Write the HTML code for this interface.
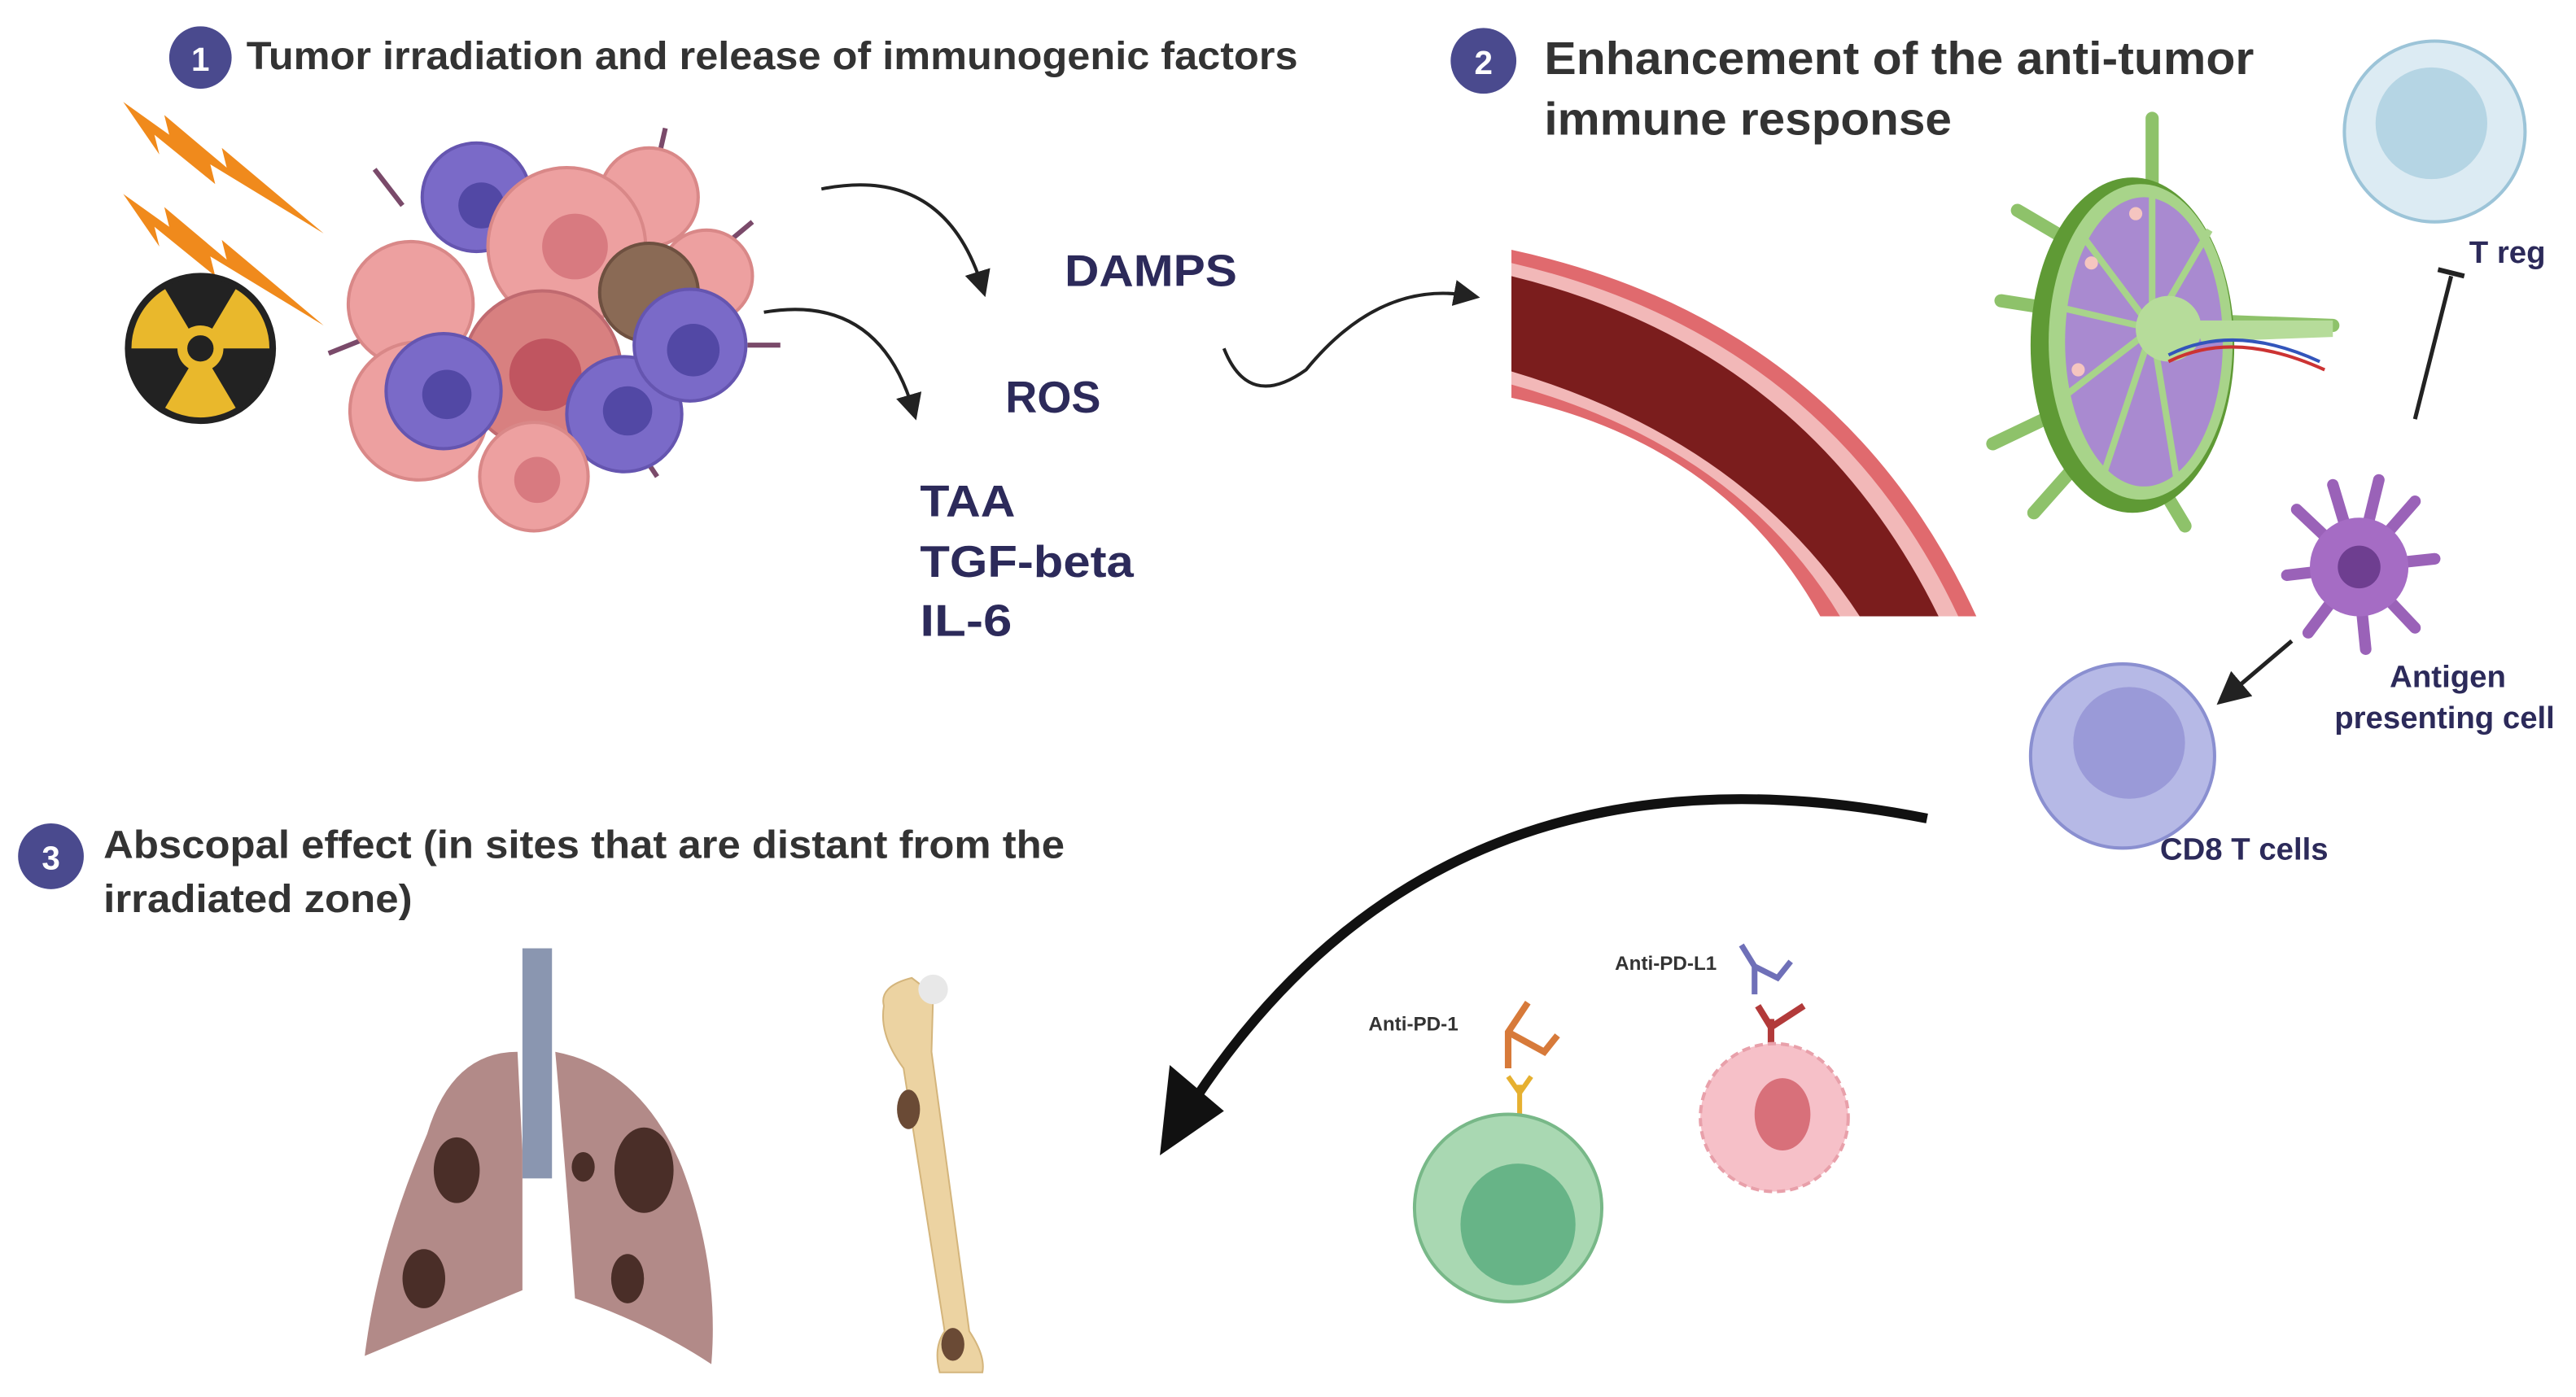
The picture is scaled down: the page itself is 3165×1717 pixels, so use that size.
<!DOCTYPE html>
<html><head><meta charset="utf-8"><style>
html,body{margin:0;padding:0;background:#fff;}
svg{display:block;}
text{font-family:"Liberation Sans",sans-serif;font-weight:bold;}
</style></head><body>
<svg width="3165" height="1717" viewBox="0 0 1568 850" preserveAspectRatio="none" xmlns="http://www.w3.org/2000/svg">
<rect width="1568" height="850" fill="#fff"/>
<defs>
<marker id="ah" markerWidth="8" markerHeight="8" refX="5" refY="4" orient="auto" markerUnits="strokeWidth"><path d="M0,0 L8,4 L0,8 Z" fill="#222"/></marker>
</defs>
<!-- Section 1 -->
<circle cx="122" cy="35" r="19" fill="#4a4a8e"/>
<text x="122" y="43" font-size="20" fill="#fff" text-anchor="middle">1</text>
<text x="150" y="42" font-size="24" fill="#333" textLength="640" lengthAdjust="spacingAndGlyphs">Tumor irradiation and release of immunogenic factors</text>
<!-- lightning -->
<polygon points="75,62 103,82 100,70 138,102 135,90 197,142 128,100 131,112 94,82 97,94" fill="#f08a1c"/>
<polygon points="75,118 103,138 100,126 138,158 135,146 197,198 128,156 131,168 94,138 97,150" fill="#f08a1c"/>
<!-- radiation -->
<circle cx="122" cy="212" r="44" fill="#e9b82c" stroke="#222" stroke-width="4"/>
<path d="M122,212 L100,175 A43,43 0 0,1 144,175 Z" fill="#222"/>
<path d="M122,212 L165,212 A43,43 0 0,1 144,249 Z" fill="#222"/>
<path d="M122,212 L100,249 A43,43 0 0,1 79,212 Z" fill="#222"/>
<circle cx="122" cy="212" r="14" fill="#e9b82c"/>
<circle cx="122" cy="212" r="8" fill="#222"/>
<!-- tumor -->
<g stroke-width="2">
<g stroke="#7a4a6a" stroke-width="3" fill="none">
<path d="M228,103 L245,125"/><path d="M405,78 L400,100"/><path d="M458,135 L440,150"/><path d="M200,215 L225,205"/><path d="M475,210 L455,210"/><path d="M225,270 L240,255"/><path d="M400,290 L390,275"/><path d="M315,318 L320,300"/>
</g>
<circle cx="250" cy="185" r="38" fill="#eda0a0" stroke="#d98888"/>
<circle cx="395" cy="120" r="30" fill="#eda0a0" stroke="#d98888"/>
<circle cx="430" cy="168" r="28" fill="#eda0a0" stroke="#d98888"/>
<circle cx="290" cy="120" r="33" fill="#7a6ac8" stroke="#6555b0"/><circle cx="293" cy="125" r="14" fill="#5248a5"/>
<circle cx="345" cy="150" r="48" fill="#eda0a0" stroke="#d98888"/><circle cx="350" cy="150" r="20" fill="#d87a80"/>
<circle cx="255" cy="250" r="42" fill="#eda0a0" stroke="#d98888"/><circle cx="258" cy="245" r="15" fill="#d87a80"/>
<circle cx="395" cy="178" r="30" fill="#8a6a55" stroke="#6e5040"/>
<circle cx="330" cy="225" r="48" fill="#d88080" stroke="#c06a70"/><circle cx="332" cy="228" r="22" fill="#c05560"/>
<circle cx="270" cy="238" r="35" fill="#7a6ac8" stroke="#6555b0"/><circle cx="272" cy="240" r="15" fill="#5248a5"/>
<circle cx="380" cy="252" r="35" fill="#7a6ac8" stroke="#6555b0"/><circle cx="382" cy="250" r="15" fill="#5248a5"/>
<circle cx="420" cy="210" r="34" fill="#7a6ac8" stroke="#6555b0"/><circle cx="422" cy="213" r="16" fill="#5248a5"/>
<circle cx="325" cy="290" r="33" fill="#eda0a0" stroke="#d98888"/><circle cx="327" cy="292" r="14" fill="#d87a80"/>
</g>
<path d="M500,115 Q575,100 598,175" fill="none" stroke="#222" stroke-width="2" marker-end="url(#ah)"/>
<path d="M465,190 Q535,178 556,250" fill="none" stroke="#222" stroke-width="2" marker-end="url(#ah)"/>
<text x="648" y="174" font-size="27" fill="#2c2a5a" textLength="105" lengthAdjust="spacingAndGlyphs">DAMPS</text>
<text x="612" y="251" font-size="27" fill="#2c2a5a" textLength="58" lengthAdjust="spacingAndGlyphs">ROS</text>
<text x="560" y="314" font-size="27" fill="#2c2a5a" textLength="58" lengthAdjust="spacingAndGlyphs">TAA</text>
<text x="560" y="351" font-size="27" fill="#2c2a5a" textLength="130" lengthAdjust="spacingAndGlyphs">TGF-beta</text>
<text x="560" y="387" font-size="27" fill="#2c2a5a" textLength="56" lengthAdjust="spacingAndGlyphs">IL-6</text>
<path d="M745,212 Q760,250 795,225 Q840,170 895,180" fill="none" stroke="#222" stroke-width="2" marker-end="url(#ah)"/>
<!-- Section 2 -->
<circle cx="903" cy="37" r="20" fill="#4a4a8e"/>
<text x="903" y="45" font-size="20" fill="#fff" text-anchor="middle">2</text>
<text x="940" y="45" font-size="28" fill="#333" textLength="432" lengthAdjust="spacingAndGlyphs">Enhancement of the anti-tumor</text>
<text x="940" y="82" font-size="28" fill="#333" textLength="248" lengthAdjust="spacingAndGlyphs">immune response</text>
<!-- vessel -->
<path d="M920,152 Q1120,195 1203,375 L1108,375 Q1050,270 920,242 Z" fill="#e06a6e"/>
<path d="M920,160 Q1112,205 1192,375 L1120,375 Q1058,272 920,234 Z" fill="#f2b8b8"/>
<path d="M920,168 Q1100,212 1180,375 L1132,375 Q1062,268 920,226 Z" fill="#7b1d1d"/>
<!-- lymph node -->
<g stroke="#8ec26a" stroke-width="8" stroke-linecap="round" fill="none">
<path d="M1310,72 L1310,115"/><path d="M1228,128 L1262,148"/><path d="M1218,183 L1250,188"/><path d="M1213,270 L1255,250"/><path d="M1238,312 L1262,285"/><path d="M1330,320 L1315,295"/><path d="M1340,195 L1420,198"/>
</g>
<ellipse cx="1298" cy="210" rx="62" ry="102" fill="#5f9a35"/>
<ellipse cx="1303" cy="208" rx="56" ry="96" fill="#a8d48a"/>
<ellipse cx="1305" cy="208" rx="48" ry="88" fill="#a98ad0"/>
<g stroke="#a8d48a" stroke-width="4">
<path d="M1310,200 L1310,120"/><path d="M1310,200 L1265,140"/><path d="M1310,200 L1258,188"/><path d="M1310,200 L1258,240"/><path d="M1310,200 L1280,290"/><path d="M1310,200 L1325,292"/><path d="M1310,200 L1345,140"/>
</g>
<circle cx="1320" cy="200" r="20" fill="#b6dc9a"/>
<path d="M1335,195 L1420,195 L1420,205 L1340,208 Z" fill="#b6dc9a"/>
<path d="M1320,220 Q1360,200 1415,225" fill="none" stroke="#cc3333" stroke-width="2"/>
<path d="M1320,216 Q1360,196 1412,220" fill="none" stroke="#3355bb" stroke-width="2"/>
<circle cx="1273" cy="160" r="4" fill="#f5c5c0"/><circle cx="1265" cy="225" r="4" fill="#f5c5c0"/><circle cx="1300" cy="130" r="4" fill="#f5c5c0"/>
<!-- T reg -->
<circle cx="1482" cy="80" r="55" fill="#dcebf3" stroke="#9cc4d8" stroke-width="2"/>
<circle cx="1480" cy="75" r="34" fill="#b5d5e4"/>
<text x="1503" y="160" font-size="19" fill="#2c2a5a">T reg</text>
<path d="M1470,255 L1492,168" stroke="#222" stroke-width="2.5"/>
<path d="M1484,164 L1500,168" stroke="#222" stroke-width="3"/>
<!-- APC -->
<g stroke="#9a62b8" stroke-width="7" stroke-linecap="round" fill="none">
<path d="M1435,345 L1420,295"/><path d="M1435,345 L1448,292"/><path d="M1435,345 L1470,305"/><path d="M1435,345 L1482,340"/><path d="M1435,345 L1470,382"/><path d="M1435,345 L1440,395"/><path d="M1435,345 L1405,385"/><path d="M1435,345 L1392,350"/><path d="M1435,345 L1398,310"/>
</g>
<circle cx="1436" cy="345" r="30" fill="#a56cc4"/>
<circle cx="1436" cy="345" r="13" fill="#6e3e90"/>
<text x="1490" y="418" font-size="19" fill="#2c2a5a" text-anchor="middle">Antigen</text>
<text x="1488" y="443" font-size="19" fill="#2c2a5a" text-anchor="middle">presenting cell</text>
<path d="M1395,390 L1355,424" stroke="#222" stroke-width="2.5" marker-end="url(#ah)"/>
<!-- CD8 -->
<circle cx="1292" cy="460" r="56" fill="#b6b9e6" stroke="#8a8fd0" stroke-width="2"/>
<circle cx="1296" cy="452" r="34" fill="#9a9ad8"/>
<text x="1366" y="523" font-size="19" fill="#2c2a5a" text-anchor="middle">CD8 T cells</text>
<!-- big arrow -->
<path d="M1173,498 Q880,440 728,668" fill="none" stroke="#111" stroke-width="6"/>
<polygon points="706,703 712,648 745,676" fill="#111"/>
<!-- Section 3 -->
<circle cx="31" cy="521" r="20" fill="#4a4a8e"/>
<text x="31" y="529" font-size="20" fill="#fff" text-anchor="middle">3</text>
<text x="63" y="522" font-size="24" fill="#333" textLength="585" lengthAdjust="spacingAndGlyphs">Abscopal effect (in sites that are distant from the</text>
<text x="63" y="555" font-size="24" fill="#333" textLength="188" lengthAdjust="spacingAndGlyphs">irradiated zone)</text>
<!-- lungs -->
<rect x="318" y="577" width="18" height="140" fill="#8a96b0"/>
<path d="M315,640 Q275,640 260,690 Q230,760 222,825 Q270,805 318,785 L318,700 Z" fill="#b28a88"/>
<path d="M338,640 Q390,650 415,710 Q438,770 433,830 Q395,805 350,790 Q345,720 338,640 Z" fill="#b28a88"/>
<ellipse cx="278" cy="712" rx="14" ry="20" fill="#4a2e28"/>
<ellipse cx="258" cy="778" rx="13" ry="18" fill="#4a2e28"/>
<ellipse cx="392" cy="712" rx="18" ry="26" fill="#4a2e28"/>
<ellipse cx="355" cy="710" rx="7" ry="9" fill="#4a2e28"/>
<ellipse cx="382" cy="778" rx="10" ry="15" fill="#4a2e28"/>
<!-- bone -->
<path d="M538,612 Q535,600 555,595 L568,605 L567,640 L590,810 Q600,825 598,835 L572,835 Q568,820 575,810 L550,650 Q535,630 538,612 Z" fill="#ecd3a2" stroke="#d4b57c"/>
<circle cx="568" cy="602" r="9" fill="#e8e8e8"/>
<ellipse cx="553" cy="675" rx="7" ry="12" fill="#6a4a35"/>
<ellipse cx="580" cy="818" rx="7" ry="10" fill="#6a4a35"/>
<!-- checkpoint -->
<text x="833" y="627" font-size="12" fill="#333">Anti-PD-1</text>
<g stroke="#d77a3a" stroke-width="4" fill="none"><path d="M918,650 L918,628 L930,610"/><path d="M918,628 L940,640 L948,630"/></g>
<g stroke="#e6b030" stroke-width="3" fill="none"><path d="M925,690 L925,660 M925,665 L918,655 M925,665 L932,655"/></g>
<circle cx="918" cy="735" r="57" fill="#a9d8b2" stroke="#78b888" stroke-width="2"/>
<ellipse cx="924" cy="745" rx="35" ry="37" fill="#67b487"/>
<text x="983" y="590" font-size="12" fill="#333">Anti-PD-L1</text>
<g stroke="#6f70b8" stroke-width="3.5" fill="none"><path d="M1068,605 L1068,588 L1060,575"/><path d="M1068,588 L1082,595 L1090,585"/></g>
<g stroke="#b23a3a" stroke-width="4" fill="none"><path d="M1078,640 L1078,620 M1078,625 L1070,612 M1078,625 L1098,612"/></g>
<circle cx="1080" cy="680" r="45" fill="#f6c0c8" stroke="#e8a0aa" stroke-width="2" stroke-dasharray="5 3"/>
<ellipse cx="1085" cy="678" rx="17" ry="22" fill="#d8707a"/>
</svg>
</body></html>
